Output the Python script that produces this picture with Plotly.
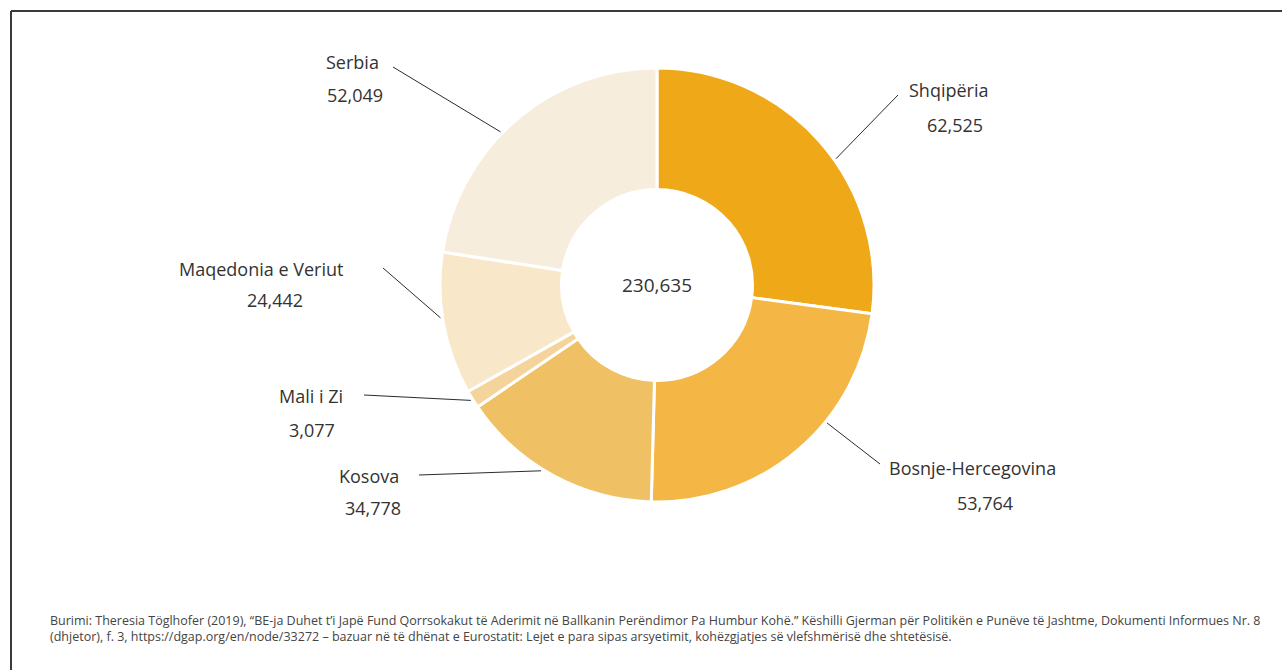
import math
import plotly.graph_objects as go

# ---- data ----
countries = ["Shqipëria", "Bosnje-Hercegovina", "Kosova", "Mali i Zi", "Maqedonia e Veriut", "Serbia"]
values = [62525, 53764, 34778, 3077, 24442, 52049]
colors = ["#EFA817", "#F4B645", "#F0C064", "#F5D49B", "#F8E7C9", "#F6EDDC"]
total_label = "230,635"
source_lines = [
    "Burimi: Theresia Töglhofer (2019), “BE-ja Duhet t’i Japë Fund Qorrsokakut të Aderimit në Ballkanin Perëndimor Pa Humbur Kohë.” Këshilli Gjerman për Politikën e Punëve të Jashtme, Dokumenti Informues Nr. 8",
    "(dhjetor), f. 3, https://dgap.org/en/node/33272 – bazuar në të dhënat e Eurostatit: Lejet e para sipas arsyetimit, kohëzgjatjes së vlefshmërisë dhe shtetësisë.",
]

# ---- layout (pixels) ----
W, H = 1282, 670
cx, cy, R = 657, 285, 217
# label placements: (name_x, name_y, value_x, value_y, leader_end_x, leader_end_y, anchor_angle_shift_deg)
label_pos = [
    (949, 90, 955, 125, 898, 95, 6.0),
    (972, 468, 985, 503, 880, 464, -10.5),
    (369, 476, 373, 508, 419, 475, 3.3),
    (311, 396, 312, 430, 364, 395, 0.0),
    (261, 269, 275, 300, 383, 268, 1.7),
    (352, 62, 355, 95, 393, 67, -5.0),
]

def px(x):
    return x / W

def py(y):
    return 1 - y / H

fig = go.Figure(go.Pie(
    labels=countries,
    values=values,
    hole=0.44,
    sort=False,
    direction="clockwise",
    rotation=0,
    textinfo="none",
    hoverinfo="label+value",
    marker=dict(colors=colors, line=dict(color="white", width=3)),
    domain=dict(x=[px(cx - R), px(cx + R)], y=[py(cy + R), py(cy - R)]),
    showlegend=False,
))

font = "Open Sans, Noto Sans, sans-serif"
total = sum(values)
annotations = []
shapes = []
cum = 0
for name, v, pos in zip(countries, values, label_pos):
    nx, ny, vx, vy, ex, ey, shift = pos
    mid = (cum + v / 2) / total * 2 * math.pi + math.radians(shift)
    cum += v
    sx = cx + (R + 2) * math.sin(mid)
    sy = cy - (R + 2) * math.cos(mid)
    shapes.append(dict(type="line", xref="paper", yref="paper",
                       x0=px(sx), y0=py(sy), x1=px(ex), y1=py(ey),
                       line=dict(color="#2b2b2b", width=1)))
    annotations.append(dict(x=px(nx), y=py(ny), xref="paper", yref="paper",
                            text=name, showarrow=False, xanchor="center", yanchor="middle",
                            font=dict(family=font, size=18, color="#333333")))
    annotations.append(dict(x=px(vx), y=py(vy), xref="paper", yref="paper",
                            text=f"{v:,}", showarrow=False, xanchor="center", yanchor="middle",
                            font=dict(family=font, size=18, color="#333333")))

annotations.append(dict(x=px(cx), y=py(cy), xref="paper", yref="paper", text=total_label,
                        showarrow=False, xanchor="center", yanchor="middle",
                        font=dict(family=font, size=19, color="#333333")))
annotations.append(dict(x=px(48), y=py(610), xref="paper", yref="paper",
                        text="<br>".join(source_lines), showarrow=False,
                        xanchor="left", yanchor="top", align="left",
                        font=dict(family=font, size=12.5, color="#444444")))

# frame (top and left edges)
shapes.append(dict(type="line", xref="paper", yref="paper", x0=px(11), y0=py(11), x1=1, y1=py(11),
                   line=dict(color="#3a3a3a", width=2)))
shapes.append(dict(type="line", xref="paper", yref="paper", x0=px(11), y0=py(11), x1=px(11), y1=0,
                   line=dict(color="#3a3a3a", width=2)))

fig.update_layout(
    width=W, height=H,
    margin=dict(l=0, r=0, t=0, b=0),
    paper_bgcolor="white", plot_bgcolor="white",
    annotations=annotations, shapes=shapes,
)
fig.write_html("out.html")
